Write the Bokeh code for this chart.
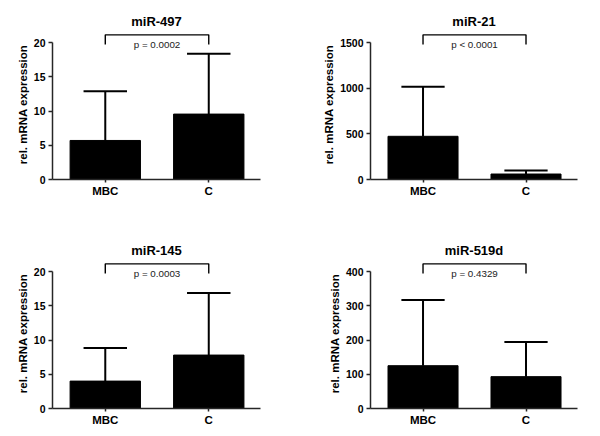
from bokeh.plotting import figure
from bokeh.layouts import gridplot
from bokeh.models import FixedTicker, Range1d, ColumnDataSource
from bokeh.core.properties import value
from bokeh.embed import file_html
from bokeh.resources import INLINE

# ---- data ----
categories = ["MBC", "C"]
titles = ["miR-497", "miR-21", "miR-145", "miR-519d"]
p_labels = ["p = 0.0002", "p < 0.0001", "p = 0.0003", "p = 0.4329"]

mean_497 = [5.7, 9.55]
sd_497 = [7.2, 8.8]
mean_21 = [473, 60]
sd_21 = [543, 38]
mean_145 = [4.0, 7.8]
sd_145 = [4.85, 9.05]
mean_519d = [125, 93]
sd_519d = [192, 101]

yticks_497 = [0, 5, 10, 15, 20]
yticks_21 = [0, 500, 1000, 1500]
yticks_145 = [0, 5, 10, 15, 20]
yticks_519d = [0, 100, 200, 300, 400]

FONT = "Liberation Sans"
AX = "#262626"


def panel(title, means, sds, yticks, ptext, left, right, top, bottom):
    ymax = yticks[-1]
    p = figure(width=300, height=218,
               x_range=Range1d(0.49, 2.5), y_range=Range1d(0, ymax * 1.095),
               output_backend="svg", toolbar_location=None,
               min_border_left=left, min_border_right=right,
               min_border_top=top, min_border_bottom=bottom,
               title=title)
    xs = [i + 1 for i in range(len(categories))]
    upper = [m + s for m, s in zip(means, sds)]
    src = ColumnDataSource(dict(x=xs, top=means, upper=upper,
                                cx0=[x - 0.21 for x in xs], cx1=[x + 0.21 for x in xs]))
    p.vbar(x="x", top="top", bottom=0, width=0.68, fill_color="black",
           line_color="black", source=src)
    p.segment(x0="x", y0="top", x1="x", y1="upper", line_width=2,
              line_color="black", source=src)
    p.segment(x0="cx0", y0="upper", x1="cx1", y1="upper", line_width=2,
              line_color="black", source=src)
    # significance bracket
    by = ymax * 1.056
    bl = ymax * 0.985
    p.line(x=[xs[0], xs[0], xs[1], xs[1]], y=[bl, by, by, bl],
           line_width=1.4, line_color="black")
    p.text(x=[(xs[0] + xs[1]) / 2], y=[by], text=[ptext], text_align="center",
           text_baseline="top", y_offset=4, text_font_size="9.8px",
           text_font=value(FONT), text_color="#222222")

    p.title.align = "center"
    p.title.text_font = FONT
    p.title.text_font_size = "13px"
    p.title.text_font_style = "bold"
    p.title.text_color = "black"
    p.title.standoff = 1

    p.xgrid.visible = False
    p.ygrid.visible = False
    p.outline_line_color = None

    p.yaxis.ticker = FixedTicker(ticks=yticks)
    p.yaxis.bounds = (0, ymax)
    p.yaxis.axis_label = "rel. mRNA expression"
    p.yaxis.axis_label_text_font = FONT
    p.yaxis.axis_label_text_font_size = "11.5px"
    p.yaxis.axis_label_text_font_style = "bold"
    p.yaxis.axis_label_text_color = "black"
    p.yaxis.axis_label_standoff = 2
    p.yaxis.major_label_text_font = FONT
    p.yaxis.major_label_text_font_size = "10.5px"
    p.yaxis.major_label_text_font_style = "bold"
    p.yaxis.major_label_text_color = "black"
    p.yaxis.major_label_standoff = 3
    p.yaxis.major_tick_out = 4
    p.yaxis.major_tick_in = 0
    p.yaxis.minor_tick_line_color = None

    p.xaxis.ticker = FixedTicker(ticks=xs)
    p.xaxis.major_label_overrides = {x: c for x, c in zip(xs, categories)}
    p.xaxis.major_label_text_font = FONT
    p.xaxis.major_label_text_font_size = "11.5px"
    p.xaxis.major_label_text_font_style = "bold"
    p.xaxis.major_label_text_color = "black"
    p.xaxis.major_label_standoff = 2
    p.xaxis.major_tick_out = 3
    p.xaxis.major_tick_in = 0
    p.xaxis.minor_tick_line_color = None

    for ax in (p.xaxis, p.yaxis):
        ax.axis_line_color = AX
        ax.axis_line_width = 1.5
        ax.major_tick_line_color = AX
        ax.major_tick_line_width = 1.5
    return p


p1 = panel(titles[0], mean_497, sd_497, yticks_497, p_labels[0], 52, 40, 29, 39)
p2 = panel(titles[1], mean_21, sd_21, yticks_21, p_labels[1], 70, 23, 29, 39)
p3 = panel(titles[2], mean_145, sd_145, yticks_145, p_labels[2], 52, 40, 40, 28)
p4 = panel(titles[3], mean_519d, sd_519d, yticks_519d, p_labels[3], 70, 23, 40, 28)

grid = gridplot([[p1, p2], [p3, p4]], toolbar_location=None)

open("out.html", "w").write(file_html(grid, INLINE))
